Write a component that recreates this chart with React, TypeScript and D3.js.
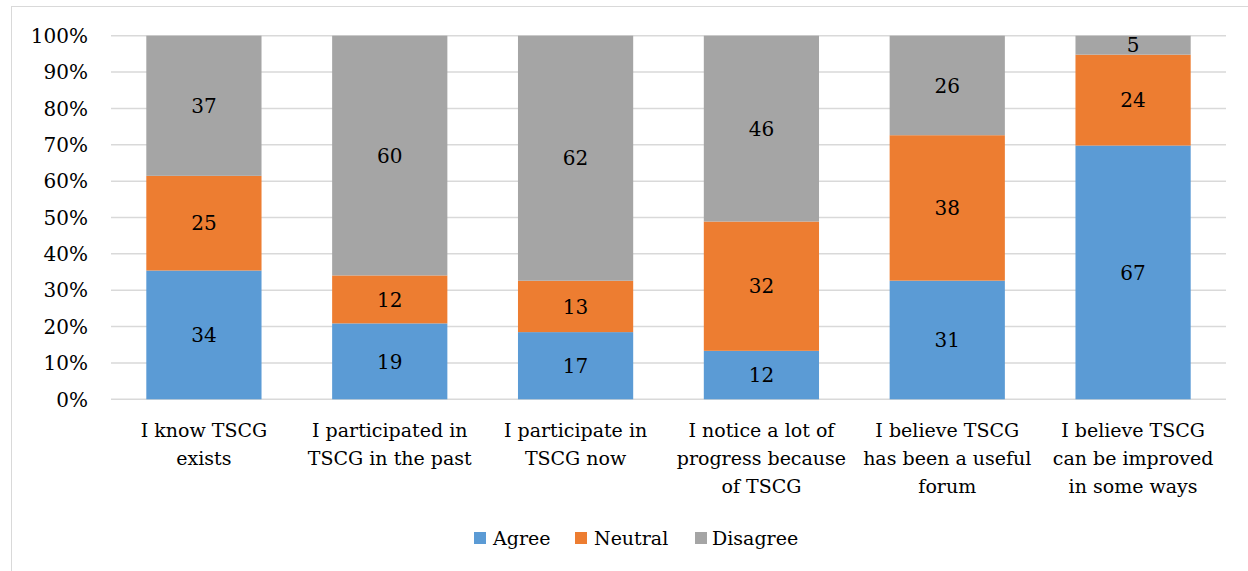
import React from "react";
import * as d3 from "d3";

const categories = [
  "I know TSCG\nexists",
  "I participated in\nTSCG in the past",
  "I participate in\nTSCG now",
  "I notice a lot of\nprogress because\nof TSCG",
  "I believe TSCG\nhas been a useful\nforum",
  "I believe TSCG\ncan be improved\nin some ways",
];
const seriesNames = ["Agree", "Neutral", "Disagree"];
const agree = [34, 19, 17, 12, 31, 67];
const neutral = [25, 12, 13, 32, 38, 24];
const disagree = [37, 60, 62, 46, 26, 5];
const yTicks = [0, 0.1, 0.2, 0.3, 0.4, 0.5, 0.6, 0.7, 0.8, 0.9, 1];
const colors = ["#5b9bd5", "#ed7d31", "#a5a5a5"];

const W = 1248;
const H = 571;
const FONT = "'DejaVu Serif', serif";

export default function App() {
  const left = 111, right = 1226, top = 35.7, bottom = 399.3;
  const x = d3.scaleBand<number>().domain(d3.range(categories.length)).range([left, right]).paddingInner(0.38).paddingOuter(0.19);
  const y = d3.scaleLinear().domain([0, 1]).range([bottom, top]);
  const rows = categories.map((c, i) => ({ i, Agree: agree[i], Neutral: neutral[i], Disagree: disagree[i] }));
  const stacked = d3.stack<any>().keys(seriesNames).offset(d3.stackOffsetExpand)(rows);

  const legendItems = [
    { name: "Agree", sx: 474, tx: 493 },
    { name: "Neutral", sx: 575, tx: 594 },
    { name: "Disagree", sx: 695, tx: 712 },
  ];

  return (
    <svg width={W} height={H} style={{ position: "absolute", left: 0, top: 0 }} fontFamily={FONT}>
      <rect x={11.5} y={6.5} width={1250} height={600} fill="white" stroke="#d9d9d9" strokeWidth={1} />
      {yTicks.map((t) => (
        <g key={t}>
          <line x1={left} x2={right} y1={y(t)} y2={y(t)} stroke="#d9d9d9" strokeWidth={1.5} />
          <text x={88} y={y(t)} dy="0.36em" textAnchor="end" fontSize={20} fill="#000">
            {d3.format(".0%")(t)}
          </text>
        </g>
      ))}
      {stacked.map((s, si) => (
        <g key={s.key}>
          {s.map((d: any, i: number) => {
            const y0 = y(d[0]);
            const y1 = y(d[1]);
            const v = (d.data as any)[s.key];
            return (
              <g key={i}>
                <rect x={x(i)} y={y1} width={x.bandwidth()} height={y0 - y1} fill={colors[si]} />
                <text x={(x(i) as number) + x.bandwidth() / 2} y={(y0 + y1) / 2} dy="0.36em" textAnchor="middle" fontSize={20} fill="#000">
                  {v}
                </text>
              </g>
            );
          })}
        </g>
      ))}
      {categories.map((c, i) => (
        <text key={i} x={(x(i) as number) + x.bandwidth() / 2} y={437} textAnchor="middle" fontSize={19} fill="#000">
          {c.split("\n").map((ln, k) => (
            <tspan key={k} x={(x(i) as number) + x.bandwidth() / 2} y={437 + k * 28}>
              {ln}
            </tspan>
          ))}
        </text>
      ))}
      {legendItems.map((l, i) => (
        <g key={l.name}>
          <rect x={l.sx} y={532} width={12} height={12} fill={colors[i]} />
          <text x={l.tx} y={538} dy="0.36em" fontSize={19} fill="#000">
            {l.name}
          </text>
        </g>
      ))}
    </svg>
  );
}
